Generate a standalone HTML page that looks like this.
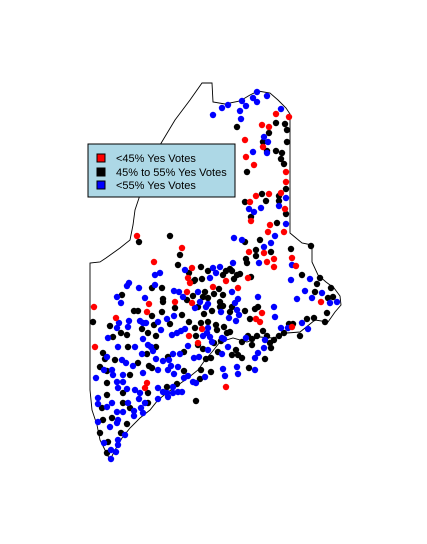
<!DOCTYPE html>
<html><head><meta charset="utf-8"><style>
html,body{margin:0;padding:0;background:#fff;}
svg{display:block;font-family:"Liberation Sans",sans-serif;}
</style></head><body>
<svg id="map" width="427" height="544" viewBox="0 0 427 544">
<g id="outline-g"></g>
<g id="points-g"></g>
<g>
<rect x="88" y="144" width="147" height="53" fill="#add8e6" stroke="#000" stroke-width="1"/>
<rect x="97" y="154" width="8" height="8" fill="#ff0000" stroke="#000"/>
<text x="116" y="162" font-size="11">&lt;45% Yes Votes</text>
<rect x="97" y="168" width="8" height="8" fill="#000" stroke="#000"/>
<text x="116" y="176" font-size="11">45% to 55% Yes Votes</text>
<rect x="97" y="181" width="8" height="8" fill="#0000ff" stroke="#000"/>
<text x="116" y="189" font-size="11">&lt;55% Yes Votes</text>
</g>
</svg>
<script>
// Map grid coordinates (easting, northing) of the state outline
const outlineE=[112,122,123,135,150,160,168,180,188,196,200,200,206,212,222,222,228,236,244,250,251,245,238,225,210,197,183,170,157,143,130,122,115,108,98,88,78,68,60,50,40,32,25,20,15,10,7,2,0,0,10,16,30,40,43,45,50,60,70,85,100,112];
const outlineN=[382,382,363,361,364,370,374,372,365,357,351,232,227,222,220,203,190,183,177,169,160,153,143,145,133,132,127,128,123,127,123,113,105,95,87,80,73,65,55,47,37,27,15,5,15,25,40,55,75,202,203,207,217,225,240,255,270,295,320,345,365,382];
// Town locations by vote category (easting, northing)
const lowYes=[[186,351],[199,348],[172,340],[179,338],[155,325],[173,318],[156,308],[164,300],[196,293],[196,283],[191,272],[179,271],[166,269],[160,263],[195,256],[161,244],[180,240],[178,233],[194,233],[47,229],[92,217],[159,213],[174,212],[184,206],[202,207],[64,203],[177,203],[206,199],[102,197],[184,198],[98,187],[100,182],[136,184],[158,187],[123,178],[97,173],[148,177],[59,161],[85,163],[102,162],[231,163],[4,158],[5,118],[57,153],[172,152],[166,146],[170,143],[202,138],[112,136],[99,129],[108,122],[136,78],[57,82],[55,77],[26,147]];
const midYes=[[147,338],[186,342],[195,341],[197,335],[179,332],[173,323],[197,323],[177,314],[186,314],[192,312],[191,306],[194,301],[157,293],[196,276],[172,271],[189,269],[189,264],[176,264],[155,263],[196,251],[161,248],[187,242],[49,223],[80,229],[155,223],[170,225],[221,219],[166,215],[181,213],[201,216],[90,210],[166,209],[156,206],[157,202],[88,200],[111,198],[140,196],[136,194],[142,194],[99,192],[104,184],[105,185],[112,186],[118,194],[133,190],[144,186],[147,190],[150,191],[161,188],[212,190],[230,187],[227,181],[62,177],[72,177],[115,173],[129,176],[225,173],[241,177],[32,170],[73,166],[73,163],[97,165],[103,169],[113,168],[118,167],[124,171],[133,170],[130,163],[133,159],[142,158],[238,167],[243,168],[3,143],[44,154],[48,154],[62,149],[72,153],[85,157],[92,150],[108,158],[114,151],[122,154],[130,158],[140,153],[155,154],[165,156],[168,158],[160,146],[199,141],[203,141],[217,146],[224,147],[235,143],[237,152],[210,129],[20,139],[31,132],[37,130],[23,128],[52,136],[58,132],[64,140],[66,129],[80,141],[99,143],[105,137],[111,142],[118,143],[126,140],[127,135],[134,138],[137,132],[140,133],[106,129],[124,122],[131,124],[152,123],[158,129],[162,126],[167,129],[173,134],[177,129],[180,122],[184,125],[189,129],[194,132],[181,117],[162,120],[175,106],[159,97],[106,64],[152,107],[148,110],[142,110],[146,115],[128,113],[121,107],[116,106],[113,116],[108,120],[94,113],[78,108],[57,111],[66,118],[38,118],[13,112],[15,106],[25,105],[48,102],[59,99],[62,97],[94,94],[111,95],[121,93],[110,86],[87,81],[77,78],[58,72],[33,72],[40,90],[17,94],[10,98],[17,82],[17,70],[12,57],[33,62],[40,57],[58,62],[37,41],[22,47],[13,45],[31,32],[10,32],[18,23],[17,12]];
const highYes=[[123,350],[132,357],[138,360],[152,364],[156,359],[150,354],[163,367],[167,373],[167,363],[177,369],[191,356],[151,346],[174,328],[178,323],[163,313],[177,312],[196,267],[171,257],[159,256],[164,253],[189,259],[196,241],[185,229],[144,227],[152,225],[181,222],[174,218],[169,202],[143,202],[202,200],[123,197],[130,198],[65,190],[70,192],[95,195],[120,187],[126,192],[201,185],[220,186],[37,179],[39,182],[49,177],[65,180],[84,174],[89,173],[108,173],[142,173],[215,174],[232,172],[27,168],[31,162],[55,167],[93,168],[110,163],[118,161],[168,168],[148,166],[145,162],[207,166],[247,163],[240,162],[222,167],[50,144],[84,149],[105,157],[116,158],[131,153],[147,155],[184,158],[185,148],[198,137],[191,137],[212,142],[218,136],[29,142],[39,144],[27,137],[18,127],[38,138],[53,142],[56,142],[53,126],[68,143],[71,135],[77,146],[95,136],[91,134],[87,132],[82,130],[118,137],[139,147],[146,144],[149,150],[113,129],[117,132],[120,128],[132,127],[122,123],[134,126],[156,127],[175,125],[174,117],[168,112],[165,107],[165,95],[148,91],[147,98],[135,89],[133,96],[138,118],[132,111],[118,115],[109,108],[104,107],[98,119],[90,111],[83,111],[79,105],[73,104],[66,106],[52,111],[63,114],[61,118],[58,120],[45,118],[28,118],[17,108],[32,105],[36,102],[43,99],[53,92],[68,95],[78,95],[81,99],[88,98],[84,91],[94,87],[98,89],[115,88],[103,83],[106,82],[83,78],[68,77],[50,72],[45,75],[37,76],[28,77],[27,83],[33,83],[33,90],[23,90],[22,95],[14,95],[6,87],[8,67],[22,62],[17,58],[8,61],[38,62],[49,66],[55,62],[51,57],[44,54],[53,52],[44,49],[33,53],[27,53],[28,45],[27,42],[8,43],[20,38],[35,30],[28,25],[14,22],[28,20],[21,15],[26,13],[21,6],[73,73],[77,72],[78,68],[83,72],[88,73],[92,73],[68,66]];

const NS='http://www.w3.org/2000/svg';
const xScale=e=>90+e;
const yScale=n=>465-n;

const og=document.getElementById('outline-g');
const path=document.createElementNS(NS,'path');
let d='';
for(let i=0;i<outlineE.length;i++){d+=(i?'L':'M')+xScale(outlineE[i])+','+yScale(outlineN[i]);}
path.setAttribute('d',d+'Z');
path.setAttribute('fill','none');
path.setAttribute('stroke','#000');
path.setAttribute('stroke-width','0.9');


og.appendChild(path);

const pg=document.getElementById('points-g');
function drawSeries(arr,color,name){
  arr.forEach(p=>{
    const c=document.createElementNS(NS,'circle');
    c.setAttribute('cx',xScale(p[0]));
    c.setAttribute('cy',yScale(p[1]));
    c.setAttribute('r','3.2');
    c.setAttribute('fill',color);
    
    
    pg.appendChild(c);
  });
}
drawSeries(midYes,'#000000','town-point-mid');
drawSeries(highYes,'#0000ff','town-point-high');
drawSeries(lowYes,'#ff0000','town-point-low');
</script>
</body></html>
